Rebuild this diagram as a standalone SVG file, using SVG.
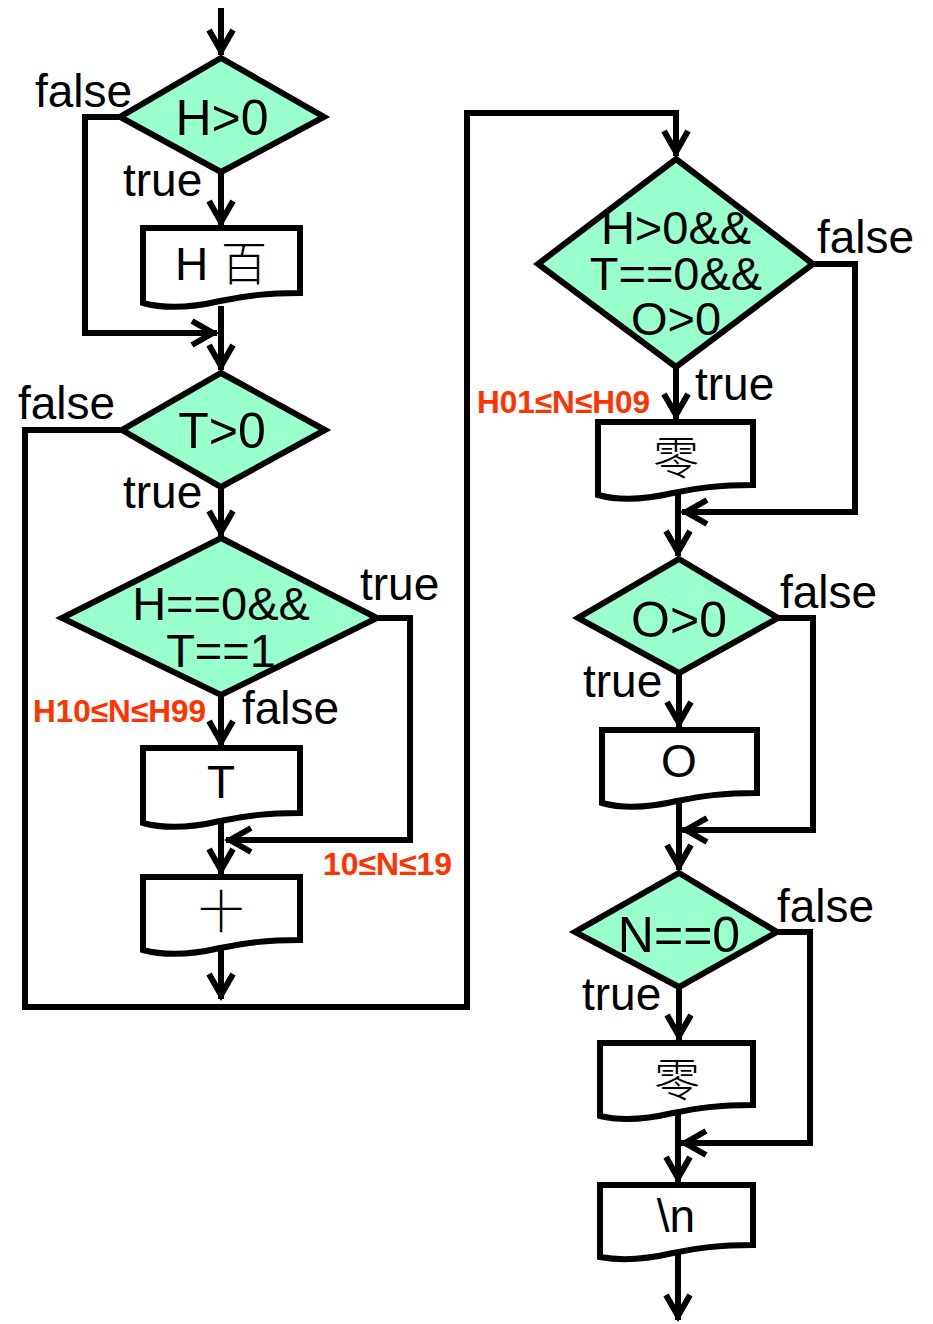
<svg xmlns="http://www.w3.org/2000/svg" width="933" height="1324" viewBox="0 0 933 1324">
<style>
.dia{fill:#99FFCC;stroke:#000;stroke-width:6;stroke-linejoin:miter}
.doc{fill:#fff;stroke:#000;stroke-width:6}
.ln{fill:none;stroke:#000;stroke-width:6;stroke-linejoin:miter}
.arr{marker-end:url(#ah)}
.lb{font-family:"Liberation Sans",Arial,sans-serif;font-size:46px;fill:#000}
.dt{font-family:"Liberation Sans",Arial,sans-serif;font-size:50px;fill:#000;text-anchor:middle}
.dt2{font-family:"Liberation Sans",Arial,sans-serif;font-size:47px;fill:#000;text-anchor:middle}
.bt{font-family:"Liberation Sans",Arial,sans-serif;font-size:46px;fill:#000;text-anchor:middle}
.cjk{font-family:"Noto Sans CJK SC","Noto Sans CJK JP",sans-serif;font-weight:300}
.red{font-family:"Liberation Sans",Arial,sans-serif;font-size:31px;font-weight:bold;fill:#FF3300}
</style>
<defs>
<marker id="ah" markerUnits="userSpaceOnUse" viewBox="-30 -16 36 32" markerWidth="36" markerHeight="32" refX="0" refY="0" orient="auto" overflow="visible">
<path d="M-25,-12 L-4,0 L-25,12" fill="none" stroke="#000" stroke-width="6"/>
</marker>
</defs>
<g id="connectors">
<path class="ln arr" d="M221,8 V55"/>
<path class="ln arr" d="M221,172 V226"/>
<path class="ln arr" d="M120,117 H85 V333 H217"/>
<path class="ln arr" d="M221,306 V370"/>
<path class="ln arr" d="M221,487 V536"/>
<path class="ln arr" d="M122,430 H25 V1007 H467 V113 H676 V156"/>
<path class="ln arr" d="M221,695 V746"/>
<path class="ln arr" d="M377,618 H410 V840 H226"/>
<path class="ln arr" d="M221,820 V874"/>
<path class="ln arr" d="M221,950 V999"/>
<path class="ln arr" d="M676,367 V419"/>
<path class="ln arr" d="M813,264 H855 V512 H682"/>
<path class="ln arr" d="M678,490 V556"/>
<path class="ln arr" d="M679,673 V727"/>
<path class="ln arr" d="M778,618 H813 V830 H682"/>
<path class="ln arr" d="M679,798 V870"/>
<path class="ln arr" d="M679,987 V1040"/>
<path class="ln arr" d="M777,932 H810 V1143 H681"/>
<path class="ln arr" d="M678,1112 V1182"/>
<path class="ln arr" d="M678,1252 V1320"/>
</g>
<g id="d1">
<polygon class="dia" points="221,58 324,117 221,172 120,117"/>
<text class="dt" x="222" y="135">H&gt;0</text>
</g>
<g id="b1">
<path class="doc" d="M143,228 H300 V293 C265,293 245,296 220,301 C190,308 165,309 143,303 Z"/>
<text class="bt" x="221" y="280">H <tspan class="cjk">百</tspan></text>
</g>
<g id="d2">
<polygon class="dia" points="221,373 325,430 221,487 122,430"/>
<text class="dt" x="222" y="448">T&gt;0</text>
</g>
<g id="d3">
<polygon class="dia" points="221,538 377,618 221,695 62,618"/>
<text class="dt2" x="221" y="620">H==0&amp;&amp;<tspan x="221" dy="47">T==1</tspan></text>
</g>
<g id="b2">
<path class="doc" d="M143,748 H300 V813 C265,813 245,816 220,821 C190,828 165,829 143,823 Z"/>
<text class="bt" x="221" y="798">T</text>
</g>
<g id="b3">
<path class="doc" d="M143,877 H300 V940 C265,940 245,943 220,948 C190,955 165,956 143,950 Z"/>
<text class="bt cjk" x="221" y="928">十</text>
</g>
<g id="d4">
<polygon class="dia" points="676,159 813,264 676,367 538,264"/>
<text class="dt2" x="676" y="244">H&gt;0&amp;&amp;<tspan x="676" dy="46">T==0&amp;&amp;</tspan><tspan x="676" dy="45">O&gt;0</tspan></text>
</g>
<g id="b4">
<path class="doc" d="M598,422 H753 V485 C718,485 698,488 673,493 C643,500 620,501 598,495 Z"/>
<text class="bt cjk" x="676" y="474">零</text>
</g>
<g id="d5">
<polygon class="dia" points="679,559 778,618 679,673 578,618"/>
<text class="dt" x="679" y="637">O&gt;0</text>
</g>
<g id="b5">
<path class="doc" d="M602,730 H757 V793 C722,793 702,796 677,801 C647,808 624,809 602,803 Z"/>
<text class="bt" x="679" y="777">O</text>
</g>
<g id="d6">
<polygon class="dia" points="679,873 777,932 679,987 575,932"/>
<text class="dt" x="679" y="952">N==0</text>
</g>
<g id="b6">
<path class="doc" d="M600,1043 H753 V1105 C718,1105 698,1108 673,1113 C643,1120 621,1121 600,1116 Z"/>
<text class="bt cjk" x="677" y="1096">零</text>
</g>
<g id="b7">
<path class="doc" d="M600,1185 H753 V1245 C718,1245 698,1248 673,1253 C643,1260 621,1261 600,1257 Z"/>
<text class="bt" x="676" y="1232">\n</text>
</g>
<g id="labels">
<text class="lb" x="35" y="107">false</text>
<text class="lb" x="123" y="196">true</text>
<text class="lb" x="18" y="419">false</text>
<text class="lb" x="123" y="508">true</text>
<text class="lb" x="360" y="600">true</text>
<text class="lb" x="242" y="724">false</text>
<text class="red" x="33" y="722" textLength="173" lengthAdjust="spacingAndGlyphs">H10≤N≤H99</text>
<text class="red" x="323" y="875" textLength="129" lengthAdjust="spacingAndGlyphs">10≤N≤19</text>
<text class="lb" x="817" y="253">false</text>
<text class="lb" x="695" y="400">true</text>
<text class="red" x="477" y="413" textLength="173" lengthAdjust="spacingAndGlyphs">H01≤N≤H09</text>
<text class="lb" x="780" y="608">false</text>
<text class="lb" x="583" y="697">true</text>
<text class="lb" x="777" y="922">false</text>
<text class="lb" x="582" y="1010">true</text>
</g>
</svg>
